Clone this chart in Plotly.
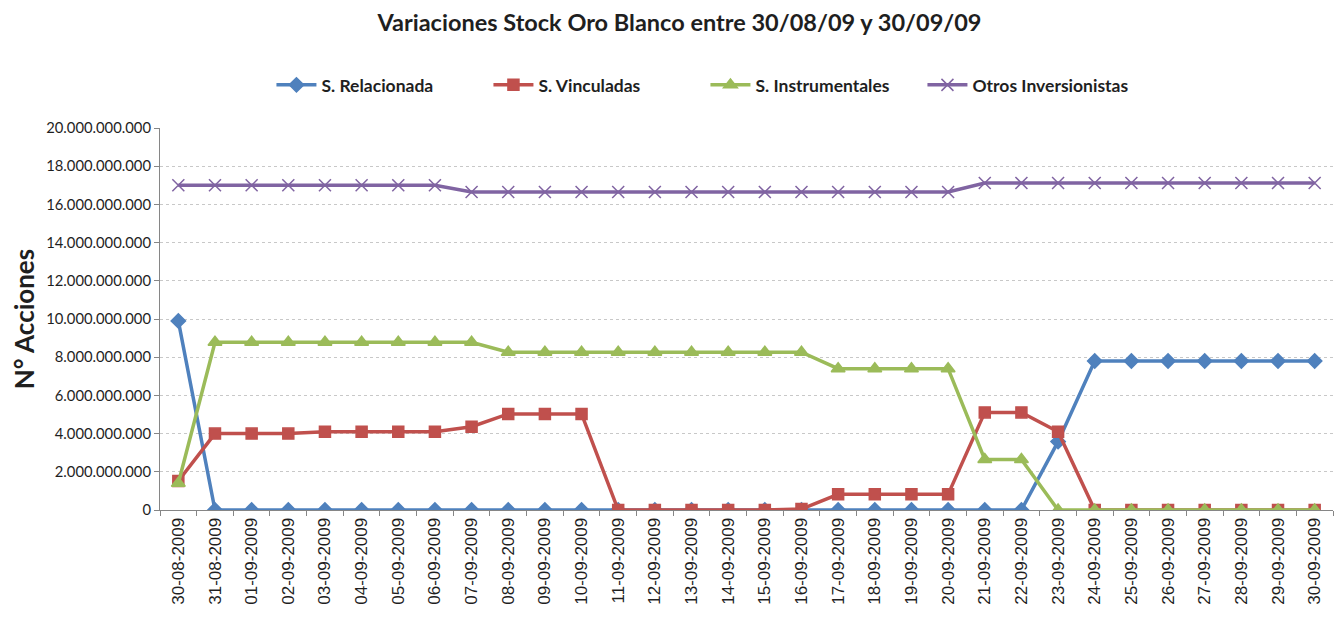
import plotly.graph_objects as go

dates = ["30-08-2009", "31-08-2009"] + ["%02d-09-2009" % d for d in range(1, 31)]

relacionada = [9.9e9] + [0]*23 + [3.58e9] + [7.8e9]*7
vinculadas = [1.52e9, 4.0e9, 4.0e9, 4.0e9, 4.1e9, 4.1e9, 4.1e9, 4.1e9, 4.36e9,
              5.03e9, 5.03e9, 5.03e9, 0, 0, 0, 0, 0, 0.05e9, 0.82e9, 0.82e9, 0.82e9,
              0.82e9, 5.11e9, 5.11e9, 4.1e9, 0, 0, 0, 0, 0, 0, 0]
instrumentales = [1.4e9] + [8.78e9]*8 + [8.26e9]*9 + [7.4e9]*4 + [2.65e9]*2 + [0]*8
otros = [17.0e9]*8 + [16.65e9]*14 + [17.12e9]*10

series = [
    ("<b>S. Relacionada</b>", relacionada, "#4F81BD", "diamond", 11),
    ("<b>S. Vinculadas</b>", vinculadas, "#C0504D", "square", 11),
    ("<b>S. Instrumentales</b>", instrumentales, "#9BBB59", "triangle-up", 12),
    ("<b>Otros Inversionistas</b>", otros, "#8064A2", "x-thin-open", 12),
]

FONT = "Lato"
fig = go.Figure()
for name, vals, col, sym, sz in series:
    fig.add_trace(go.Scatter(
        x=dates, y=vals, name=name, mode="lines+markers",
        line=dict(color=col, width=3.5),
        marker=dict(symbol=sym, size=sz, color=col, line=dict(color=col, width=1.5)),
    ))

fig.update_layout(
    width=1343, height=621,
    paper_bgcolor="white", plot_bgcolor="white",
    margin=dict(l=152, r=18, t=120, b=119),
    separators=",.",
    font=dict(family=FONT, color="#404040"),
    title=dict(text="<b>Variaciones Stock Oro Blanco entre 30/08/09 y 30/09/09</b>",
               x=0.5, xanchor="center", y=0.977, yanchor="middle",
               font=dict(size=23.5, color="#1F1F1F", family=FONT)),
    legend=dict(orientation="h", x=0.465, xanchor="center", y=1.1126, yanchor="middle",
                font=dict(size=17.5, color="#1F1F1F", family=FONT),
                entrywidth=162, itemwidth=40),
    showlegend=True,
)
fig.update_xaxes(
    type="category", range=[-0.5, 31.5], tickangle=-90,
    tickfont=dict(size=17, color="#1F1F1F", family="Liberation Sans"),
    showline=True, linecolor="#868686", linewidth=1,
    ticks="outside", ticklen=5, tickcolor="#868686", tickson="boundaries",
    showgrid=False,
)
fig.update_yaxes(
    range=[0, 20e9], dtick=2e9, tickformat=",d",
    tickfont=dict(size=14.8, color="#1F1F1F"),
    showline=True, linecolor="#868686", linewidth=1,
    ticks="outside", ticklen=5, tickcolor="#868686",
    showgrid=True, gridcolor="#C8C8C8", griddash="dot", gridwidth=1,
    zeroline=False,
    title=dict(text="<b>N° Acciones</b>", font=dict(size=26, color="#1F1F1F", family=FONT), standoff=5),
)
fig.write_html("out.html")
